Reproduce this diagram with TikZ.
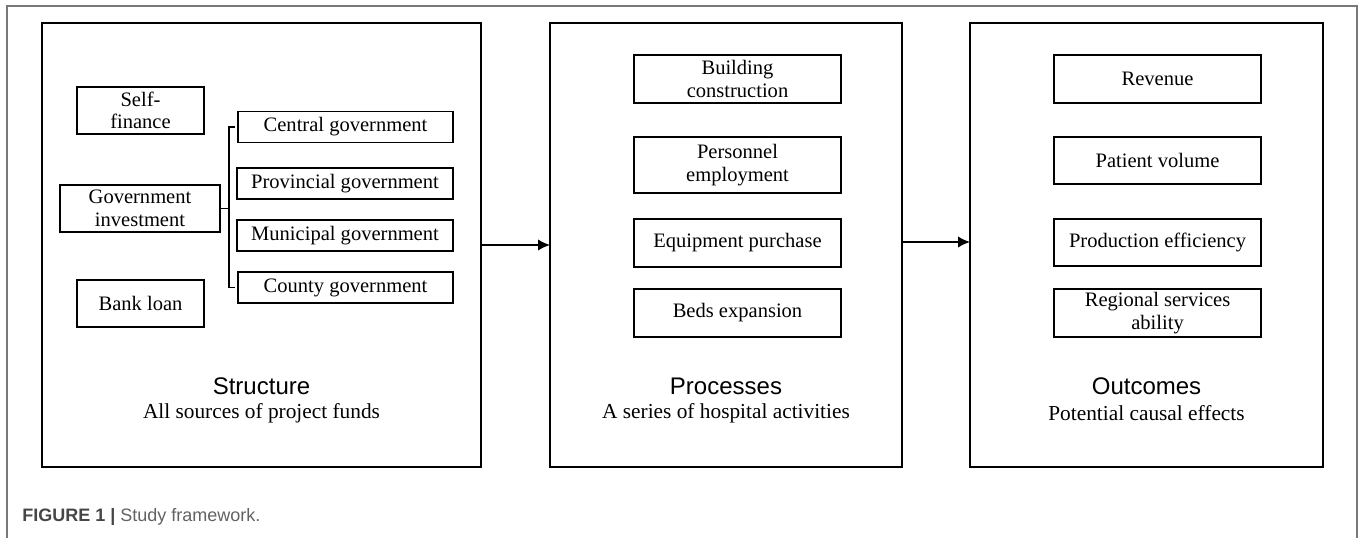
\documentclass[tikz,border=0pt]{standalone}
\usepackage{fontspec}
\setmainfont{Liberation Serif}
\setsansfont{Liberation Sans}
\definecolor{frame-grey}{RGB}{120,120,120}
\definecolor{caption-grey}{RGB}{70,70,70}
\usetikzlibrary{arrows.meta,positioning}

\begin{document}
\begin{tikzpicture}[x=0.75pt,y=-0.75pt,
        panel/.style={draw,line width=1.2pt,inner sep=0pt,outer sep=0pt},
        item/.style={draw,line width=1.1pt,inner sep=0pt,outer sep=0pt,align=center,
            font=\fontsize{15.4}{17}\selectfont},
        title/.style={font=\sffamily\fontsize{18}{20}\selectfont},
        subtitle/.style={font=\fontsize{16}{18}\selectfont}]
    \useasboundingbox (0,0) rectangle (1358,538);
    % outer frame, open at the bottom
    \draw[frame-grey,line width=1pt] (7,538) -- (7,6) -- (1357,6) -- (1357,538);
    %
    % the three panels
    \node[panel,minimum width=329.25pt,minimum height=333pt] (struct) at (261.5,245) {};
    \node[panel,minimum width=264pt,minimum height=333pt] (proc) at (726,245) {};
    \node[panel,minimum width=264.75pt,minimum height=333pt] (outc) at (1146.5,245) {};
    %
    % structure
    \node[item,minimum width=95.25pt,minimum height=35.25pt] (selfin) at (140.5,110.5) {Self-\\finance};
    \node[item,minimum width=120pt,minimum height=35.25pt] (govinv) at (140,208.5) {Government\\investment};
    \node[item,minimum width=95.25pt,minimum height=35.25pt] (bank) at (140.5,303.5) {Bank loan};
    \node[item,minimum width=161.25pt,minimum height=23pt] (central) at (345.5,127) {Central government};
    \node[item,minimum width=162pt,minimum height=23pt] (prov) at (345,183.5) {Provincial government};
    \node[item,minimum width=162pt,minimum height=23pt] (muni) at (345,235.5) {Municipal government};
    \node[item,minimum width=161.25pt,minimum height=23pt] (county) at (345.5,287.5) {County government};
    \draw[line width=1.1pt] ([xshift=-2.25pt]central.west) -- ++(-6,0) coordinate (brtop)
        |- ([xshift=-2.25pt]county.west);
    \draw[line width=1.1pt] (govinv.east) -- (govinv.east -| brtop);
    \node[title] (structt) at (261.5,386) {Structure};
    \node[subtitle] (structs) at (261.5,413) {All sources of project funds};
    %
    % processes
    \node[item,minimum width=155.25pt,minimum height=36pt] (build) at (737.5,79) {Building\\construction};
    \node[item,minimum width=155.25pt,minimum height=42pt] (pers) at (737.5,165) {Personnel\\employment};
    \node[item,minimum width=155.25pt,minimum height=36pt] (equip) at (737.5,243) {Equipment purchase};
    \node[item,minimum width=155.25pt,minimum height=36pt] (beds) at (737.5,313) {Beds expansion};
    \node[title] (proct) at (726,386) {Processes};
    \node[subtitle] (procs) at (726,413) {A series of hospital activities};
    %
    % outcomes
    \node[item,minimum width=155.25pt,minimum height=36pt] (rev) at (1157.5,79) {Revenue};
    \node[item,minimum width=155.25pt,minimum height=35.25pt] (patient) at (1157.5,160.5) {Patient volume};
    \node[item,minimum width=155.25pt,minimum height=35.25pt] (effic) at (1157.5,242.5) {Production efficiency};
    \node[item,minimum width=155.25pt,minimum height=36pt] (region) at (1157.5,313) {Regional services\\ability};
    \node[title] (outct) at (1146.5,386) {Outcomes};
    \node[subtitle] (outcs) at (1146.5,413) {Potential causal effects};
    %
    \draw[-{Latex[length=9pt,width=8.5pt]},line width=1.1pt] (struct.east) -- (proc.west);
    \draw[-{Latex[length=9pt,width=8.5pt]},line width=1.1pt] ([yshift=2.25pt]proc.east) -- ([yshift=2.25pt]outc.west);
    %
    \node[anchor=west,inner sep=0pt,font=\sffamily\fontsize{13.5}{15}\selectfont] (cap) at (22,517)
        {\textcolor{caption-grey}{\bfseries FIGURE 1 |} \textcolor{caption-grey!85}{Study framework.}};
\end{tikzpicture}
\end{document}
